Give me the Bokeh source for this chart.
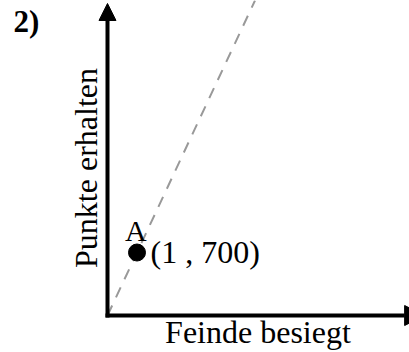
import math
from bokeh.plotting import figure
from bokeh.models import Range1d, Label, Arrow, NormalHead
from bokeh.embed import file_html
from bokeh.resources import INLINE

# data
point_x = [1]
point_y = [700]
point_name = "A"
line_x = [0, 5]
line_y = [0, 3500]
x_title = "Feinde besiegt"
y_title = "Punkte erhalten"
panel_label = "2)"

FONT = "Liberation Serif"

p = figure(width=409, height=352, output_backend="svg", toolbar_location=None,
           x_range=Range1d(-3.627, 10.237), y_range=Range1d(-411, 3500),
           x_axis_type=None, y_axis_type=None, min_border=0)
p.grid.visible = False
p.outline_line_color = None
p.background_fill_color = "white"
p.border_fill_color = "white"

# dashed reference line
p.line(line_x, line_y, line_color="#999999", line_width=2, line_dash="11 9")

# axes with arrow heads
p.add_layout(Arrow(x_start=0, y_start=-22, x_end=0, y_end=3467, line_width=4, line_color="black",
                   end=NormalHead(size=17, fill_color="black", line_color="black", line_width=1)))
p.add_layout(Arrow(x_start=-0.068, y_start=0, x_end=10.75, y_end=0, line_width=4, line_color="black",
                   end=NormalHead(size=20, fill_color="black", line_color="black", line_width=1)))

# point
p.scatter(point_x, point_y, size=17, color="black")

# labels
p.add_layout(Label(x=0.59, y=940, text=point_name,
                   text_font=FONT, text_font_size="30px", text_baseline="middle",
                   text_align="left", text_color="black"))
p.add_layout(Label(x=1.458, y=709,
                   text=f"({point_x[0]} , {point_y[0]})",
                   text_font=FONT, text_font_size="32px", text_baseline="middle",
                   text_align="left", text_color="black"))
p.add_layout(Label(x=5.10, y=-180, text=x_title, text_font=FONT, text_font_size="32px",
                   text_align="center", text_baseline="middle", text_color="black"))
p.add_layout(Label(x=-0.722, y=1639, text=y_title, text_font=FONT, text_font_size="32px",
                   text_align="center", text_baseline="middle", angle=math.pi / 2,
                   text_color="black"))
p.add_layout(Label(x=-3.186, y=3264, text=panel_label, text_font=FONT, text_font_size="31px",
                   text_font_style="bold", text_align="left", text_baseline="middle",
                   text_color="black"))

open("out.html", "w").write(file_html(p, INLINE))
